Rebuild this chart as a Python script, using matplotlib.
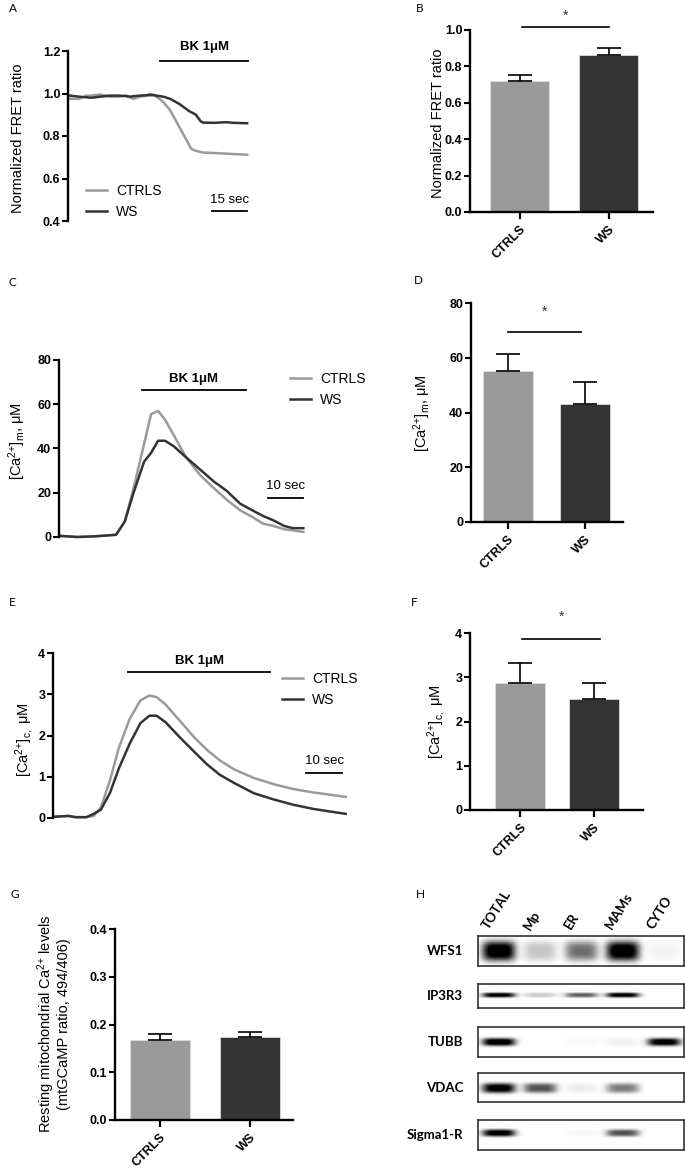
import numpy as np
import matplotlib
matplotlib.use('Agg')
import matplotlib.pyplot as plt

plt.rcParams['font.family'] = ['Liberation Sans', 'DejaVu Sans']
plt.rcParams['mathtext.fontset'] = 'custom'
plt.rcParams['mathtext.rm'] = 'Liberation Sans'
plt.rcParams['mathtext.it'] = 'Liberation Sans:italic'
plt.rcParams['mathtext.bf'] = 'Liberation Sans:bold'

W, H = 685, 1170

groups = ['CTRLS', 'WS']
group_colors = ['#9a9a9a', '#333333']

# A - FRET ratio traces (sec)
fret_t = [0, 4, 7, 9, 13, 17, 21, 24, 26, 27, 30, 33, 34, 36, 37, 39, 40, 43, 47, 51,
          52, 54, 56, 57, 62, 67, 70, 76]
fret_ctrl = [0.975, 0.975, 0.99, 0.99, 0.995, 0.985, 0.985, 0.99, 0.98, 0.975, 0.985,
             0.99, 0.99, 0.99, 0.985, 0.97, 0.96, 0.92, 0.84, 0.76, 0.74, 0.73, 0.725,
             0.722, 0.72, 0.717, 0.715, 0.712]
fret_ws = [0.99, 0.985, 0.982, 0.98, 0.985, 0.99, 0.99, 0.988, 0.985, 0.987, 0.99,
           0.992, 0.995, 0.993, 0.99, 0.987, 0.985, 0.975, 0.95, 0.918, 0.912, 0.9,
           0.87, 0.863, 0.862, 0.865, 0.862, 0.86]

# C - mitochondrial Ca2+ traces
mito_t = [0, 5, 10, 16, 18.5, 21, 24, 26, 28, 30, 32.5, 36, 40, 44, 47.5, 51.5, 55, 58,
          61, 64, 66.5, 69.5]
mito_ctrl = [0.5, 0, 0.3, 1, 7, 22, 42, 55.5, 57, 53, 46, 36, 28, 22, 17, 12, 9, 6, 5,
             3.5, 3, 2.3]
mito_ws = [0.5, 0, 0.3, 1, 7, 20, 34, 38, 43.5, 43.5, 41, 36, 30.5, 25, 21, 15, 12, 9.5,
           7.5, 5, 4, 4]

# E - cytosolic Ca2+ traces
cyto_t = [0, 4, 6, 9, 11, 13, 15.5, 18, 21, 24, 26.5, 28.5, 31, 35, 39, 42.5, 46, 50,
          55.5, 61, 66.5, 72, 79.5, 81]
cyto_ctrl = [0.03, 0.05, 0.02, 0.02, 0.05, 0.25, 0.9, 1.7, 2.4, 2.85, 2.97, 2.93, 2.75,
             2.35, 1.95, 1.65, 1.4, 1.18, 0.97, 0.82, 0.7, 0.62, 0.53, 0.51]
cyto_ws = [0.03, 0.05, 0.02, 0.02, 0.1, 0.2, 0.6, 1.2, 1.8, 2.3, 2.48, 2.48, 2.32, 1.95,
           1.6, 1.3, 1.05, 0.85, 0.6, 0.45, 0.32, 0.22, 0.12, 0.1]

# bar charts: mean and SEM
fret_mean = [0.72, 0.86]
fret_sem = [0.035, 0.04]
mito_mean = [55, 43]
mito_sem = [6.5, 8]
cyto_mean = [2.87, 2.5]
cyto_sem = [0.45, 0.37]
rest_mean = [0.167, 0.173]
rest_sem = [0.014, 0.012]

# H - western blot band darkness (0 = none, 1 = saturated)
lanes = ['TOTAL', 'Mp', 'ER', 'MAMs', 'CYTO']
blot_rows = ['WFS1', 'IP3R3', 'TUBB', 'VDAC', 'Sigma1-R']
band_levels = [
    [1.0, 0.2, 0.5, 1.0, 0.04],
    [0.95, 0.18, 0.55, 0.95, 0.0],
    [1.0, 0.0, 0.02, 0.05, 0.95],
    [0.95, 0.6, 0.06, 0.45, 0.0],
    [0.95, 0.0, 0.03, 0.6, 0.0],
]

fig = plt.figure(figsize=(W / 100, H / 100), dpi=100)


def rect(x0, y0, x1, y1):
    return [x0 / W, 1 - y1 / H, (x1 - x0) / W, (y1 - y0) / H]


def ftext(x, y, s, **kw):
    fig.text(x / W, 1 - y / H, s, **kw)


def style_left(ax, yticks, fmt):
    ax.set_yticks(yticks, [fmt.format(v) for v in yticks], fontweight='bold', fontsize=9)
    ax.tick_params(axis='y', length=4, width=1.5, pad=1.5)
    ax.spines['left'].set_linewidth(1.7)
    for s in ['top', 'right']:
        ax.spines[s].set_visible(False)


def trace_panel(box, t, ctrl, ws, xlim, ylim, yticks, fmt):
    ax = fig.add_axes(rect(*box))
    ax.plot(t, ctrl, color=group_colors[0], lw=1.8, label='CTRLS', clip_on=False)
    ax.plot(t, ws, color=group_colors[1], lw=1.8, label='WS', clip_on=False)
    ax.set_xlim(*xlim)
    ax.set_ylim(*ylim)
    style_left(ax, yticks, fmt)
    ax.spines['bottom'].set_visible(False)
    ax.set_xticks([])
    return ax


def marks(ax, bk, bk_y, bk_ty, sc, sc_y, sc_ty, sc_label):
    ax.plot(bk, [bk_y, bk_y], color='black', lw=1.3, clip_on=False)
    ax.text(sum(bk) / 2, bk_ty, 'BK 1\u03bcM', ha='center', va='center',
            fontweight='bold', fontsize=9.5)
    ax.plot(sc, [sc_y, sc_y], color='black', lw=1.3, clip_on=False)
    ax.text(sum(sc) / 2, sc_ty, sc_label, ha='center', va='center', fontsize=9.5)


def legend(ax, x, y):
    ax.legend(loc='upper left', bbox_to_anchor=(x, y), frameon=False, fontsize=10,
              handlelength=1.5, handletextpad=0.65, labelspacing=0.5,
              borderpad=0, borderaxespad=0)


def bar_panel(box, xlim, means, sems, top, yticks, fmt, width, sig=None):
    ax = fig.add_axes(rect(*box))
    x = np.arange(len(groups))
    ax.bar(x, means, width, color=group_colors, edgecolor='#dcdcdc', linewidth=0.6,
           zorder=2)
    ax.errorbar(x, means, yerr=[np.zeros(len(groups)), sems], fmt='none', ecolor='black',
                elinewidth=1.2, capsize=8.5, capthick=1.2, zorder=3)
    ax.set_xlim(*xlim)
    ax.set_ylim(0, top)
    style_left(ax, yticks, fmt)
    ax.spines['bottom'].set_linewidth(1.7)
    ax.set_xticks(x, groups, rotation=45, ha='right', rotation_mode='anchor',
                  fontweight='bold', fontsize=9)
    ax.tick_params(axis='x', length=5, width=1.6, pad=3)
    if sig:
        x0, x1, y, ys = sig
        ax.plot([x0, x1], [y, y], color='black', lw=1.2, clip_on=False)
        ax.text((x0 + x1) / 2, ys, '*', ha='center', va='center', fontsize=10,
                color='#333333')
    return ax


# A
axA = trace_panel((68, 51, 250, 221), fret_t, fret_ctrl, fret_ws, (-0.86, 77.2),
                  (0.4, 1.2), [0.4, 0.6, 0.8, 1.0, 1.2], '{:.1f}')
marks(axA, [38.6, 76.4], 1.153, 1.22, [61, 76], 0.447, 0.5, '15 sec')
legend(axA, 0.099, 0.218)

# B
bar_panel((470, 30, 653, 212), (-0.56, 1.5), fret_mean, fret_sem, 1.0,
          [0.0, 0.2, 0.4, 0.6, 0.8, 1.0], '{:.1f}', 0.66, (0.02, 1.01, 1.016, 1.08))

# C
axC = trace_panel((59, 360, 310, 537), mito_t, mito_ctrl, mito_ws, (-0.29, 71.4),
                  (0, 80), [0, 20, 40, 60, 80], '{:.0f}')
marks(axC, [23.4, 53.1], 66.4, 71.4, [59.4, 69.4], 17.6, 23, '10 sec')
legend(axC, 0.92, 0.932)

# D
bar_panel((471, 303, 623, 522), (-0.48, 1.49), mito_mean, mito_sem, 80,
          [0, 20, 40, 60, 80], '{:.0f}', 0.65, (0.0, 0.95, 69.4, 76.7))

# E
axE = trace_panel((53, 653, 350, 818), cyto_t, cyto_ctrl, cyto_ws, (-0.28, 82.2),
                  (0, 4), [0, 1, 2, 3, 4], '{:.0f}')
marks(axE, [20.6, 60], 3.54, 3.8, [70, 80], 1.09, 1.38, '10 sec')
legend(axE, 0.771, 0.885)

# F
bar_panel((470, 633, 643, 810), (-0.68, 1.66), cyto_mean, cyto_sem, 4,
          [0, 1, 2, 3, 4], '{:.0f}', 0.68, (0.03, 1.08, 3.86, 4.36))

# G
bar_panel((115, 929, 293, 1120), (-0.5, 1.48), rest_mean, rest_sem, 0.4,
          [0.0, 0.1, 0.2, 0.3, 0.4], '{:.1f}', 0.66)

# y labels
lab = dict(rotation=90, ha='center', va='center', fontsize=10.5)
ca_m = '[Ca$^{2{+}}$]$_{\\mathrm{m}}$, \u03bcM'
ca_c = '[Ca$^{2{+}}$]$_{\\mathrm{c,}}$ \u03bcM'
ftext(18, 138, 'Normalized FRET ratio', **lab)
ftext(438, 123, 'Normalized FRET ratio', **lab)
ftext(17, 441, ca_m, **lab)
ftext(422, 413, ca_m, **lab)
ftext(25, 740, ca_c, **lab)
ftext(437, 722, ca_c, **lab)
ftext(53, 1024, 'Resting mitochondrial Ca$^{2{+}}$ levels\n(mtGCaMP ratio, 494/406)',
      linespacing=1.05, **lab)

# panel letters
for letter, x, y in [('A', 13, 9), ('B', 420, 9), ('C', 12, 282), ('D', 418, 281),
                     ('E', 12, 603), ('F', 414, 603), ('G', 15, 895), ('H', 420, 895)]:
    ftext(x, y, letter, family=['Lato', 'DejaVu Sans'], fontsize=8.5, ha='center',
          va='center')

# H - western blot
row_boxes = [(936, 966), (984, 1008), (1027, 1057), (1073, 1102), (1120, 1150)]
band_center = [0.5, 0.54, 0.5, 0.48, 0.57]
band_half = [0.33, 0.1, 0.13, 0.17, 0.12]
xs = np.linspace(0, 5, 500)
ys = np.linspace(0, 1, 80)
X, Y = np.meshgrid(xs, ys)
blot_axes = []
for r, name in enumerate(blot_rows):
    y0, y1 = row_boxes[r]
    ax = fig.add_axes(rect(478, y0, 684, y1))
    img = np.zeros_like(X)
    for i, lvl in enumerate(band_levels[r]):
        img += (lvl * np.exp(-np.abs((X - (i + 0.5)) / 0.4) ** 4)
                * np.exp(-np.abs((Y - band_center[r]) / band_half[r]) ** 3))
    ax.imshow(np.clip(img * 1.15, 0, 1), cmap='gray_r', vmin=0, vmax=1, aspect='auto',
              extent=(0, 5, 0, 1), origin='lower', interpolation='bilinear')
    ax.set_xticks([])
    ax.set_yticks([])
    for s in ax.spines.values():
        s.set_linewidth(1.2)
        s.set_color('#333333')
    ftext(463, (y0 + y1) / 2, name, family=['Lato', 'DejaVu Sans'], fontweight='bold',
          fontsize=9.5, ha='right', va='center')
    blot_axes.append(ax)

for i, lane in enumerate(lanes):
    blot_axes[0].text(i + 0.3, 1.15, lane, rotation=58, ha='left', va='bottom',
                      rotation_mode='anchor', family=['Lato', 'DejaVu Sans'],
                      fontweight='bold', fontsize=9.5, clip_on=False)

fig.savefig('out.png', dpi=100)
